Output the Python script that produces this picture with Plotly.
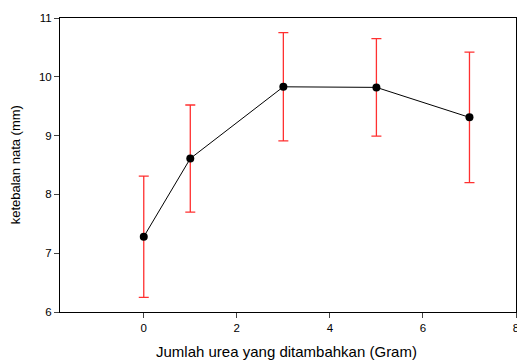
import plotly.graph_objects as go

x_vals = [0, 1, 3, 5, 7]
y_vals = [7.28, 8.61, 9.83, 9.82, 9.31]
err_vals = [1.03, 0.91, 0.92, 0.83, 1.11]
x_ticks = [0, 2, 4, 6, 8]
y_ticks = [6, 7, 8, 9, 10, 11]

fig = go.Figure()
fig.add_trace(go.Scatter(
    x=x_vals, y=y_vals,
    mode="lines+markers",
    line=dict(color="black", width=1),
    marker=dict(color="black", size=8),
    error_y=dict(type="data", array=err_vals, visible=True, color="#ff3030", thickness=1.3, width=5),
    showlegend=False,
))

font = "Liberation Sans, Arial, sans-serif"
fig.update_layout(
    width=517, height=360,
    margin=dict(l=60, r=1, t=18, b=48),
    paper_bgcolor="white", plot_bgcolor="white",
    font=dict(family=font, color="black", size=11.5),
    xaxis=dict(range=[-1.8, 8], tickvals=x_ticks, ticks="outside", ticklen=5, tickwidth=1,
               showline=True, linecolor="black", linewidth=1, mirror=True, showgrid=False, zeroline=False,
               automargin=False, ticklabeloverflow="allow"),
    yaxis=dict(range=[6, 11], tickvals=y_ticks, ticks="outside", ticklen=5, tickwidth=1,
               showline=True, linecolor="black", linewidth=1, mirror=True, showgrid=False, zeroline=False,
               automargin=False, ticklabeloverflow="allow"),
    annotations=[
        dict(text="Jumlah urea yang ditambahkan (Gram)", xref="paper", yref="paper",
             x=0.497, y=-0.135, xanchor="center", yanchor="middle", showarrow=False,
             font=dict(size=15)),
        dict(text="ketebalan nata (mm)", xref="paper", yref="paper",
             x=-0.098, y=0.5, xanchor="center", yanchor="middle", showarrow=False,
             textangle=-90, font=dict(size=13)),
    ],
)
fig.write_html(
    "out.html",
    config={"displayModeBar": False},
    post_script="document.body.style.margin='0';document.body.style.overflow='hidden';",
)
